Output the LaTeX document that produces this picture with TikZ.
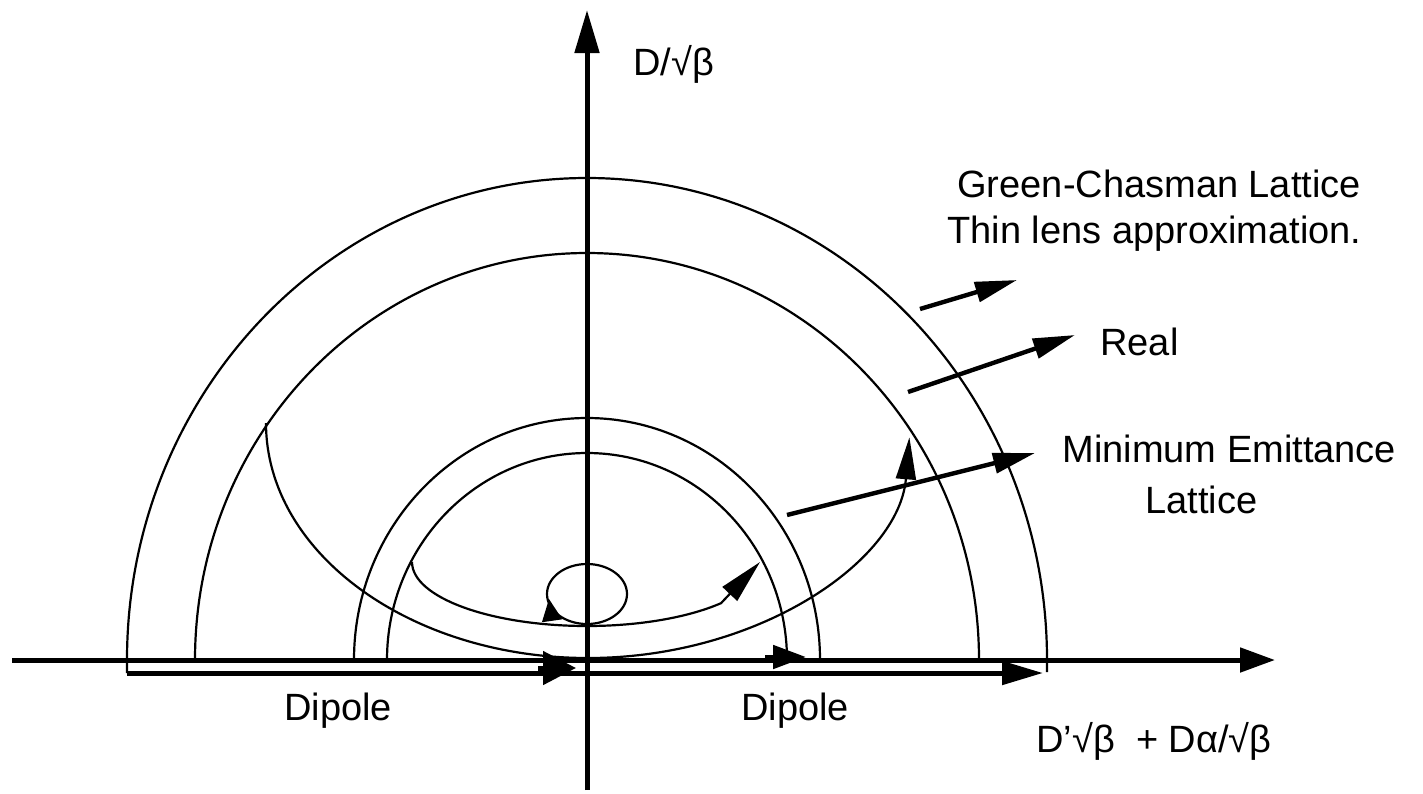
\documentclass[tikz,border=0pt]{standalone}
\usepackage{fontspec}
\setmainfont{Liberation Sans}
\usetikzlibrary{arrows.meta}
\begin{document}
\begin{tikzpicture}[x=0.5pt,y=-0.5pt,
  curve/.style={line width=1.1pt},
  heavy/.style={line width=2.5pt},
  pointer/.style={line width=2.2pt,-{Triangle[length=21pt,width=10pt]}},
  lbl/.style={font=\fontsize{19}{23}\selectfont, inner sep=0pt, anchor=base west},
]
\useasboundingbox (0,0) rectangle (1423,793);

% axis end points
\coordinate (xl) at (12,660);
\coordinate (xr) at (1275,660);
\coordinate (yb) at (587,790);
\coordinate (yt) at (587,10);

% semi-ellipses centred on the origin
\draw[curve] (127,673) -- (127,660) arc[start angle=180,end angle=360,x radius=460,y radius=482] -- (1047,672);
\draw[curve] (195,660) arc[start angle=180,end angle=360,x radius=392,y radius=407];
\draw[curve] (354,660) arc[start angle=180,end angle=360,x radius=233,y radius=242];
\draw[curve] (387,660) arc[start angle=180,end angle=360,x radius=200,y radius=207];

% Real trajectory
\draw[curve,-{Triangle[length=21pt,width=10pt]}] (266,423) arc[start angle=180,end angle=3.5,x radius=322,y radius=235];

% Minimum emittance trajectory
\draw[curve,-{Triangle[length=22pt,width=10pt]}] (412,562) arc[start angle=180,end angle=40,x radius=175,y radius=64] -- (760,562);

% small circle
\draw[curve] (587,594) ellipse[x radius=40,y radius=30];
\draw[curve,-{Triangle[length=11pt,width=10pt]}] (552,620) -- (549,599);

% dipole line
\draw[heavy,-{Triangle[length=20.5pt,width=11.5pt]}] (127,673) -- (1043,673);
\draw[heavy,-{Triangle[length=16.5pt,width=16.5pt]}] (538,668) -- (576,668);
\draw[heavy,-{Triangle[length=16.5pt,width=11.5pt]}] (765,657) -- (806,657);

% axes
\draw[heavy,-{Triangle[length=17.5pt,width=12pt]}] (xl) -- (xr);
\draw[heavy,-{Triangle[length=21.5pt,width=12pt]}] (yb) -- (yt);

% pointers
\coordinate (g0) at (920,309); \coordinate (g1) at (1017,280);
\coordinate (r0) at (908,392); \coordinate (r1) at (1075,335);
\coordinate (m0) at (787,515); \coordinate (m1) at (1035,453);
\draw[pointer] (g0) -- (g1);
\draw[pointer] (r0) -- (r1);
\draw[pointer] (m0) -- (m1);

% labels
\node[lbl] (gc) at (957,197) {Green-Chasman Lattice};
\node[lbl] (tl) at (947,243) {Thin lens approximation.};
\node[lbl] (real) at (1100,355) {Real};
\node[lbl] (me) at (1062,462) {Minimum Emittance};
\node[lbl] (lat) at (1145,513) {Lattice};
\node[lbl] (dl) at (284,720) {Dipole};
\node[lbl] (dr) at (741,720) {Dipole};
\node[lbl] (ylab) at (633,75) {D/√β};
\node[lbl] (xlab) at (1036,752) {D'√β\ \ + Dα/√β};
\end{tikzpicture}
\end{document}
